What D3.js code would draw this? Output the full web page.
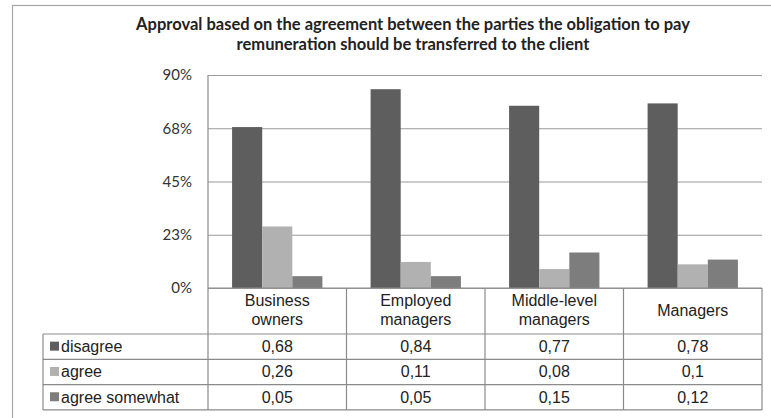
<!DOCTYPE html>
<html>
<head>
<meta charset="utf-8">
<script src="https://cdn.jsdelivr.net/npm/d3@7"></script>
<style>
  body { margin: 0; background: #fff; }
  svg { display: block; }
</style>
</head>
<body>
<div id="chart"></div>
<script>
// data
const categories = [["Business", "owners"], ["Employed", "managers"], ["Middle-level", "managers"], ["Managers"]];
const seriesNames = ["disagree", "agree", "agree somewhat"];
const disagree = [0.68, 0.84, 0.77, 0.78];
const agree = [0.26, 0.11, 0.08, 0.1];
const agreeSomewhat = [0.05, 0.05, 0.15, 0.12];
const tickValues = [0, 0.225, 0.45, 0.675, 0.9];
const tickLabels = ["0%", "23%", "45%", "68%", "90%"];
const titleLines = ["Approval based on the agreement between the parties the obligation to pay",
                    "remuneration should be transferred to the client"];

const seriesValues = [disagree, agree, agreeSomewhat];
const colors = ["#5e5e5e", "#b1b1b1", "#7d7d7d"];

const W = 771, H = 418;
const plot = { left: 208, right: 762, top: 75, bottom: 288 };
const table = { legendLeft: 43, headerBottom: 334, rowH: 25.3 };

let svg = d3.select("#chart").append("svg")
    .attr("width", W).attr("height", H);

// outer frame (runs off the right and bottom edge)
svg.append("rect")
    .attr("x", 12.5).attr("y", 5.5)
    .attr("width", 800).attr("height", 430)
    .attr("fill", "none").attr("stroke", "#a6a6a6").attr("stroke-width", 1.2);

// title
svg.append("g").selectAll("text")
    .data(titleLines)
    .join("text")
    .attr("x", 413)
    .attr("y", (d, i) => 30 + i * 20)
    .attr("text-anchor", "middle")
    .style("font-family", "Lato, 'Open Sans', sans-serif")
    .style("font-weight", "bold")
    .style("font-size", "16.5px")
    .attr("fill", "#222")
    .text(d => d);

// scales
let keys = categories.map(c => c.join(" "));
let x0 = d3.scaleBand().domain(keys).range([plot.left, plot.right]).padding(0);
let x1 = d3.scaleBand().domain(seriesNames).range([0, x0.bandwidth()])
    .paddingInner(0).paddingOuter(0.8);
let y = d3.scaleLinear().domain([0, 0.9]).range([plot.bottom, plot.top]);

// gridlines + tick labels
svg.append("g")
    .attr("transform", "translate(" + plot.left + ",0)")
    .call(d3.axisLeft(y).tickValues(tickValues).tickSize(-(plot.right - plot.left)).tickFormat((d, i) => tickLabels[i]))
    .call(g => g.select(".domain").remove())
    .call(g => g.selectAll(".tick line").attr("stroke", "#9a9a9a").attr("stroke-width", 1.2))
    .call(g => g.selectAll(".tick text")
        .attr("x", -16)
        .style("font-family", "Lato, 'Open Sans', sans-serif")
        .style("font-size", "15px")
        .attr("fill", "#333"));

// vertical axis line
svg.append("line")
    .attr("x1", plot.left).attr("x2", plot.left)
    .attr("y1", y(0.9)).attr("y2", plot.bottom)
    .attr("stroke", "#8c8c8c").attr("stroke-width", 1.2);

// bars
let rows = keys.map((k, i) => ({ key: k, vals: seriesNames.map((s, j) => ({ s: s, v: seriesValues[j][i] })) }));
svg.append("g").selectAll("g")
    .data(rows)
    .join("g")
    .attr("transform", d => "translate(" + x0(d.key) + ",0)")
    .selectAll("rect")
    .data(d => d.vals)
    .join("rect")
    .attr("x", d => x1(d.s))
    .attr("y", d => y(d.v))
    .attr("width", x1.bandwidth())
    .attr("height", d => plot.bottom - y(d.v))
    .attr("fill", (d, i) => colors[i]);

// data table
let tbl = svg.append("g");
let lineColor = "#8a8a8a";
let tableBottom = table.headerBottom + table.rowH * seriesNames.length;

// header row top
tbl.append("line").attr("x1", plot.left).attr("x2", plot.right).attr("y1", plot.bottom).attr("y2", plot.bottom)
    .attr("stroke", lineColor).attr("stroke-width", 1.2);
// column separators
let colEdges = keys.map(k => x0(k)).concat([plot.right]);
tbl.selectAll(".vline")
    .data(colEdges)
    .join("line")
    .attr("class", "vline")
    .attr("x1", d => d).attr("x2", d => d)
    .attr("y1", plot.bottom).attr("y2", tableBottom)
    .attr("stroke", lineColor).attr("stroke-width", 1.2);
// legend column left edge
tbl.append("line").attr("x1", table.legendLeft).attr("x2", table.legendLeft)
    .attr("y1", table.headerBottom).attr("y2", tableBottom)
    .attr("stroke", lineColor).attr("stroke-width", 1.2);
// row lines
tbl.selectAll(".hline")
    .data(d3.range(seriesNames.length + 1))
    .join("line")
    .attr("class", "hline")
    .attr("x1", table.legendLeft).attr("x2", plot.right)
    .attr("y1", i => table.headerBottom + i * table.rowH)
    .attr("y2", i => table.headerBottom + i * table.rowH)
    .attr("stroke", lineColor).attr("stroke-width", 1.2);

const tableFont = "'Liberation Sans', Arial, sans-serif";

// category headers
tbl.selectAll(".cat")
    .data(categories)
    .join("text")
    .attr("class", "cat")
    .attr("text-anchor", "middle")
    .attr("x", (d, i) => x0(keys[i]) + x0.bandwidth() / 2)
    .attr("y", d => d.length === 2 ? 306 : 316)
    .style("font-family", tableFont)
    .style("font-size", "16px")
    .attr("fill", "#222")
    .selectAll("tspan")
    .data(d => d)
    .join("tspan")
    .attr("x", function () { return d3.select(this.parentNode).attr("x"); })
    .attr("dy", (d, i) => i === 0 ? 0 : 19)
    .text(d => d);

// legend labels with markers, then values
seriesNames.forEach((s, j) => {
    let yc = table.headerBottom + j * table.rowH + table.rowH / 2;
    tbl.append("rect")
        .attr("x", 50).attr("y", yc - 5)
        .attr("width", 9).attr("height", 9)
        .attr("fill", colors[j]);
    tbl.append("text")
        .attr("x", 61).attr("y", yc + 5.5)
        .style("font-family", tableFont)
        .style("font-size", "16px")
        .attr("fill", "#222")
        .text(s);
    tbl.selectAll(".val" + j)
        .data(seriesValues[j])
        .join("text")
        .attr("class", "val" + j)
        .attr("text-anchor", "middle")
        .attr("x", (d, i) => x0(keys[i]) + x0.bandwidth() / 2)
        .attr("y", yc + 5.5)
        .style("font-family", tableFont)
        .style("font-size", "16px")
        .attr("fill", "#222")
        .text(d => String(d).replace(".", ","));
});
</script>
</body>
</html>
